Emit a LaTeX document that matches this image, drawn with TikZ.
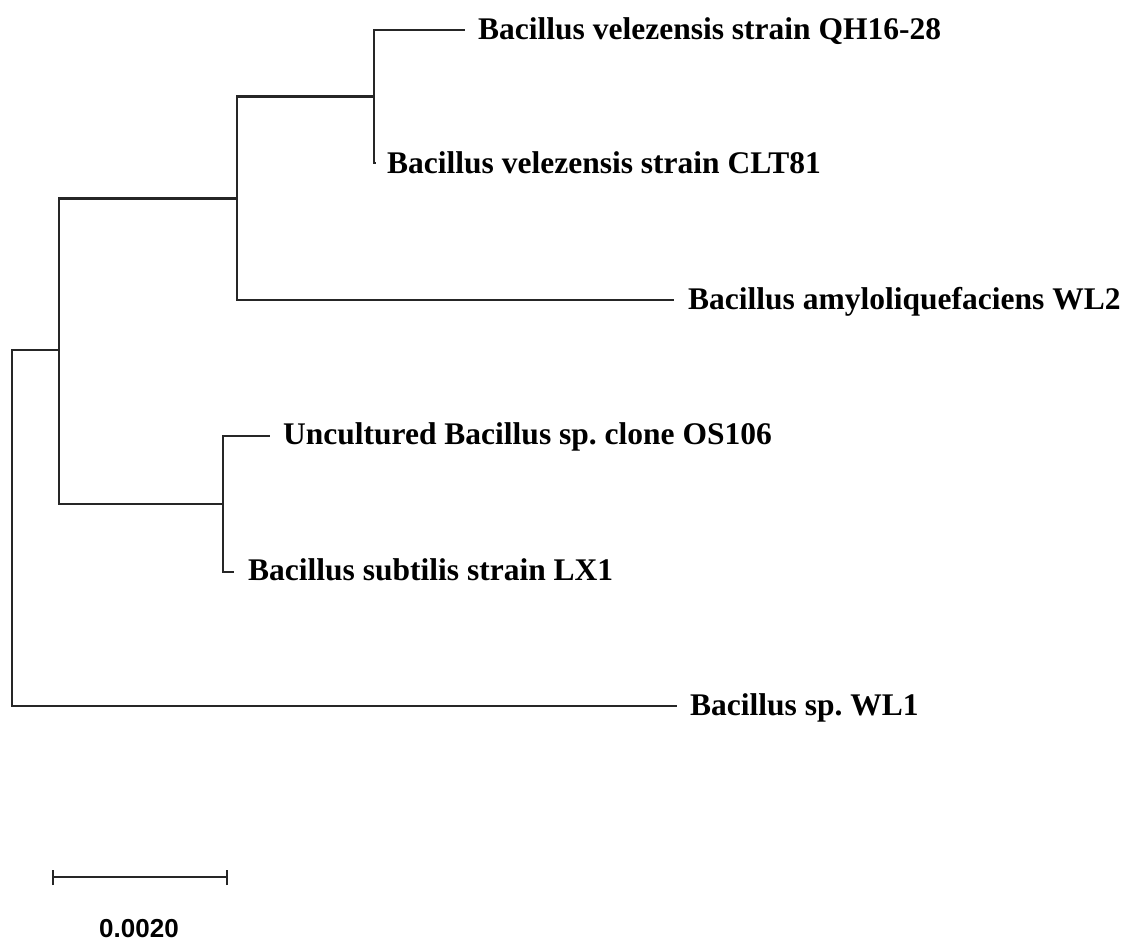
\documentclass[tikz,border=0pt]{standalone}
\usepackage{fontspec}
\setmainfont{Liberation Serif}
\newfontfamily\scalefont{Liberation Sans}
\frenchspacing
\tikzset{
  branch/.style={line width=2.4pt, draw=black!85, line cap=rect},
  taxon/.style={anchor=base west, inner sep=0pt, font=\fontsize{31.5}{31.5}\selectfont\bfseries},
  scalelabel/.style={anchor=base, inner sep=0pt, font=\scalefont\fontsize{26}{26}\selectfont\bfseries},
}
\begin{document}
\begin{tikzpicture}[x=1pt, y=-1pt]
  \useasboundingbox[fill=white] (0,0) rectangle (1136,942);

  % internal nodes (placed on their vertical bars)
  \coordinate (root) at (12,527.5);
  \coordinate (nA) at (59,350);
  \coordinate (nB) at (237,198.5);
  \coordinate (nC) at (374,96.5);
  \coordinate (nD) at (223,504);

  % tips
  \coordinate (tQH)  at (464,30);
  \coordinate (tCLT) at (375,163);
  \coordinate (tWL2) at (673,300);
  \coordinate (tOS)  at (269,436);
  \coordinate (tLX)  at (233,572);
  \coordinate (tWL1) at (676,706);

  % taxon labels
  \node[taxon] (lQH)  at ([shift={(14,10)}]tQH)  {Bacillus velezensis strain QH16-28};
  \node[taxon] (lCLT) at ([shift={(12,10)}]tCLT) {Bacillus velezensis strain CLT81};
  \node[taxon] (lWL2) at ([shift={(15,9)}]tWL2)  {Bacillus amyloliquefaciens WL2};
  \node[taxon] (lOS)  at ([shift={(14,8)}]tOS)   {Uncultured Bacillus sp. clone OS106};
  \node[taxon] (lLX)  at ([shift={(15,8)}]tLX)   {Bacillus subtilis strain LX1};
  \node[taxon] (lWL1) at ([shift={(14,9)}]tWL1)  {Bacillus sp. WL1};

  % branches
  \draw[branch] (root) |- (nA);
  \draw[branch] (root) |- (tWL1);
  \draw[branch] (nA) |- (nB);
  \draw[branch] (nA) |- (nD);
  \draw[branch] (nB) |- (nC);
  \draw[branch] (nB) |- (tWL2);
  \draw[branch] (nC) |- (tQH);
  \draw[branch] (nC) |- (tCLT);
  \draw[branch] (nD) |- (tOS);
  \draw[branch] (nD) |- (tLX);

  % scale bar
  \coordinate (sbL) at (53,877);
  \coordinate (sbR) at (227,877);
  \draw[branch, line cap=butt] (sbL) -- (sbR);
  \draw[branch, line cap=butt] ([yshift=-8]sbL) -- ([yshift=7]sbL);
  \draw[branch, line cap=butt] ([yshift=-8]sbR) -- ([yshift=7]sbR);
  \node[scalelabel] (sbT) at (139,937) {0.0020};
\end{tikzpicture}
\end{document}
